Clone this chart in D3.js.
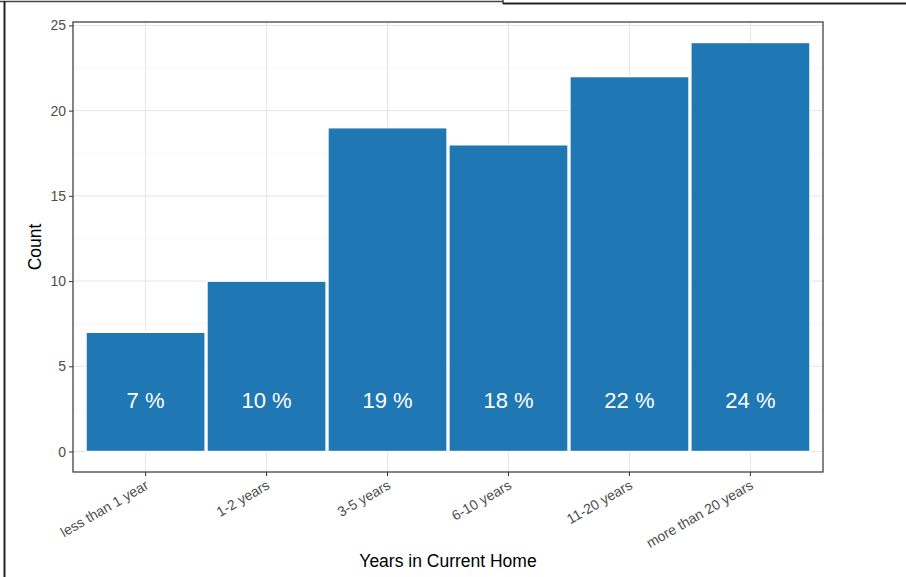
<!DOCTYPE html>
<meta charset="UTF-8">
<script src="https://d3js.org/d3.v7.min.js"></script>
<style>
body { margin: 0; background: #fff; }
text { font-family: "Liberation Sans", Arial, sans-serif; }
</style>
<div id="my_dataviz"></div>
<script>

// data
var categories = ["less than 1 year", "1-2 years", "3-5 years", "6-10 years", "11-20 years", "more than 20 years"]
var counts = [7, 10, 19, 18, 22, 24]
var yTicks = [0, 5, 10, 15, 20, 25]
var yMinor = [2.5, 7.5, 12.5, 17.5, 22.5]

var width = 906
var height = 577
var margin = {left: 73, right: 83, top: 22, bottom: 105}

var svg = d3.select("#my_dataviz")
    .append("svg")
        .attr("width", width)
        .attr("height", height)

// window frame lines from the screenshot
svg.append("line").attr("x1", 0).attr("x2", 503).attr("y1", 1.5).attr("y2", 1.5)
    .attr("stroke", "#444").attr("stroke-width", 1.5)
svg.append("line").attr("x1", 503).attr("x2", 503).attr("y1", 0).attr("y2", 4)
    .attr("stroke", "#444").attr("stroke-width", 1.5)
svg.append("line").attr("x1", 503).attr("x2", 906).attr("y1", 3.5).attr("y2", 3.5)
    .attr("stroke", "#222").attr("stroke-width", 2)
svg.append("line").attr("x1", 4.5).attr("x2", 4.5).attr("y1", 1).attr("y2", height)
    .attr("stroke", "#222").attr("stroke-width", 2)

var total = d3.sum(counts)
var data = categories.map(function(c, i){ return {cat: c, n: counts[i]} })

var pw = width - margin.left - margin.right
var ph = height - margin.top - margin.bottom

// ggplot style discrete expansion (0.6 each side)
var xPos = d3.scaleLinear()
    .domain([0.4, categories.length + 0.6])
    .range([margin.left, margin.left + pw])
var x = function(c){ return xPos(categories.indexOf(c) + 1) }

var yMax = d3.max(counts)
var y = d3.scaleLinear()
    .domain([-0.05 * yMax, yMax * 1.05])
    .range([margin.top + ph, margin.top])

var g = svg.append("g")

// grid
g.selectAll(".minor").data(yMinor).enter().append("line")
    .attr("x1", margin.left).attr("x2", margin.left + pw)
    .attr("y1", function(d){ return y(d) }).attr("y2", function(d){ return y(d) })
    .attr("stroke", "#f2f2f2").attr("stroke-width", 0.6)
g.selectAll(".major").data(yTicks).enter().append("line")
    .attr("x1", margin.left).attr("x2", margin.left + pw)
    .attr("y1", function(d){ return y(d) }).attr("y2", function(d){ return y(d) })
    .attr("stroke", "#e5e5e5").attr("stroke-width", 1)
g.selectAll(".vgrid").data(categories).enter().append("line")
    .attr("x1", function(d){ return x(d) }).attr("x2", function(d){ return x(d) })
    .attr("y1", margin.top).attr("y2", margin.top + ph)
    .attr("stroke", "#e5e5e5").attr("stroke-width", 1)

// bars
var bw = xPos(1.985) - xPos(1)
g.selectAll("rect").data(data).enter().append("rect")
    .attr("x", function(d){ return x(d.cat) - bw / 2 })
    .attr("y", function(d){ return y(d.n) })
    .attr("width", bw)
    .attr("height", function(d){ return y(0) - y(d.n) })
    .attr("fill", "#1f77b4")
    .attr("stroke", "#ffffff")
    .attr("stroke-width", 1.5)

// percentage labels
g.selectAll(".pct").data(data).enter().append("text")
    .attr("x", function(d){ return x(d.cat) })
    .attr("y", y(3))
    .attr("dy", "0.36em")
    .attr("text-anchor", "middle")
    .attr("fill", "#ffffff")
    .style("font-size", "22px")
    .text(function(d){ return Math.round(d.n / total * 100) + " %" })

// panel border
svg.append("rect")
    .attr("x", margin.left).attr("y", margin.top)
    .attr("width", pw).attr("height", ph)
    .attr("fill", "none").attr("stroke", "#333333").attr("stroke-width", 1.2)

// y axis
var yAxis = svg.append("g")
    .attr("transform", "translate(" + margin.left + ",0)")
    .call(d3.axisLeft(y).tickValues(yTicks).tickSize(4).tickPadding(3))
yAxis.select(".domain").remove()
yAxis.selectAll(".tick line").attr("stroke", "#333")
yAxis.selectAll(".tick text").attr("fill", "#4d4d4d").style("font-size", "14px")
    .style("font-family", "Liberation Sans, Arial, sans-serif")

// x axis
var xAxis = svg.append("g")
    .attr("transform", "translate(0," + (margin.top + ph) + ")")
xAxis.selectAll("line").data(categories).enter().append("line")
    .attr("x1", function(d){ return x(d) }).attr("x2", function(d){ return x(d) })
    .attr("y1", 0).attr("y2", 4)
    .attr("stroke", "#333")
xAxis.selectAll("text").data(categories).enter().append("text")
    .attr("transform", function(d){ return "translate(" + (x(d) + 4) + ",16) rotate(-30)" })
    .attr("text-anchor", "end")
    .attr("fill", "#4d4d4d")
    .style("font-size", "14px")
    .text(function(d){ return d })

// axis titles
svg.append("text")
    .attr("x", margin.left + pw / 2)
    .attr("y", 567)
    .attr("text-anchor", "middle")
    .style("font-size", "17.5px")
    .text("Years in Current Home")
svg.append("text")
    .attr("transform", "translate(41," + (margin.top + ph / 2) + ") rotate(-90)")
    .attr("text-anchor", "middle")
    .style("font-size", "17.5px")
    .text("Count")

</script>
